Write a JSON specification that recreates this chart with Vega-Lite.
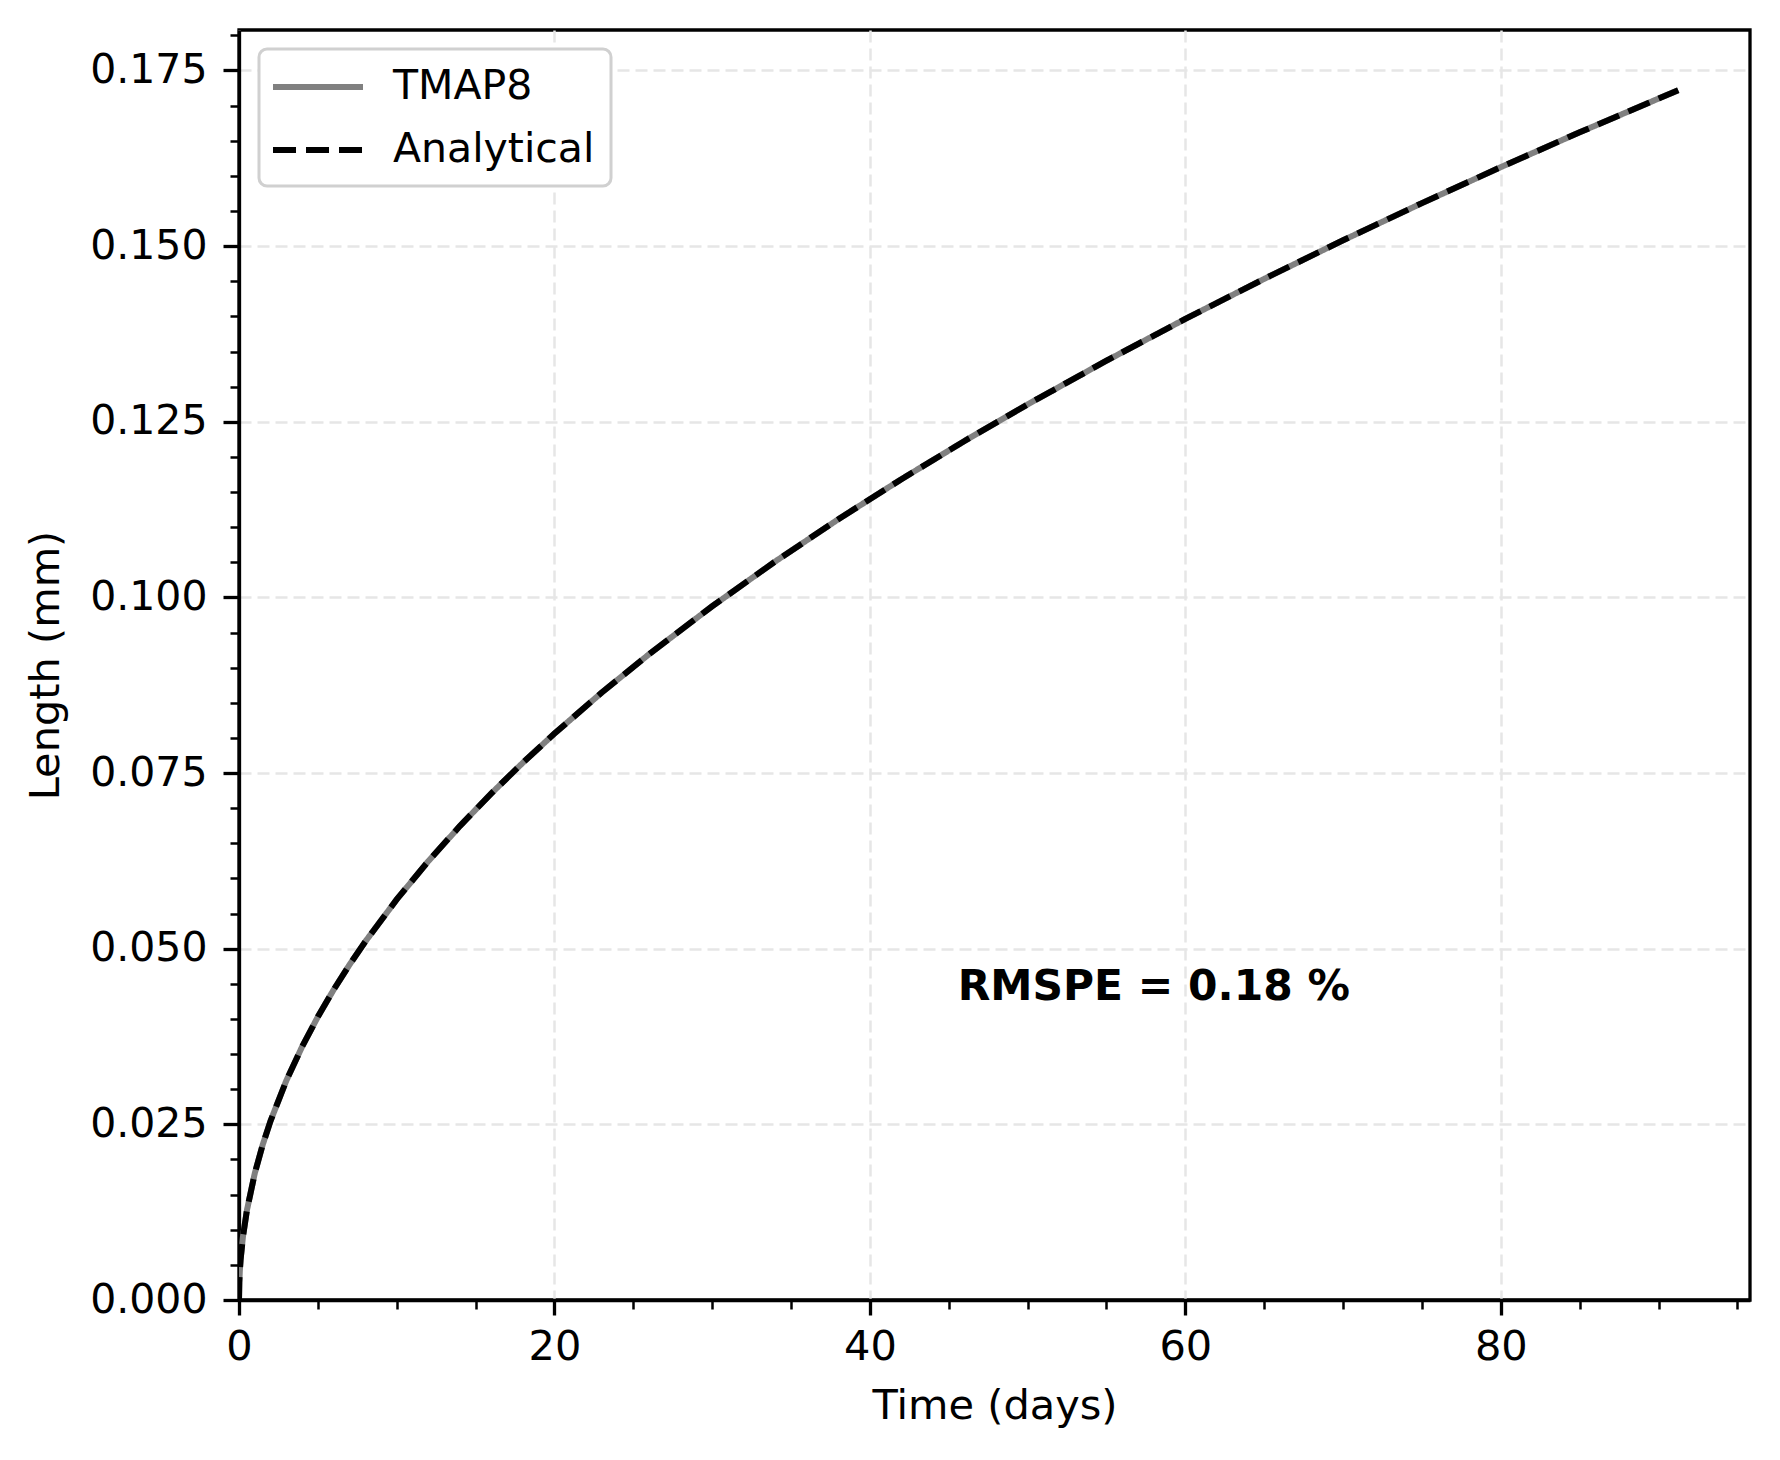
{
  "$schema": "https://vega.github.io/schema/vega-lite/v6.json",
  "autosize": {"type": "none"},
  "width": 1511,
  "height": 1270,
  "padding": {"left": 239, "top": 30, "right": 30, "bottom": 160},
  "background": "white",
  "config": {
    "font": "DejaVu Sans",
    "view": {"stroke": "black", "strokeWidth": 3.3},
    "axis": {
      "domain": false,
      "labelColor": "black",
      "titleColor": "black",
      "tickColor": "black",
      "labelFont": "DejaVu Sans",
      "titleFont": "DejaVu Sans",
      "titleFontWeight": "normal",
      "labelFlush": false,
      "labelOverlap": false
    }
  },
  "data": {
    "values": [
      {"t": 0, "tmap8": 0, "analytical": 0},
      {"t": 0.02, "tmap8": 0.00255, "analytical": 0.00255},
      {"t": 0.05, "tmap8": 0.00403, "analytical": 0.00403},
      {"t": 0.1, "tmap8": 0.0057, "analytical": 0.0057},
      {"t": 0.25, "tmap8": 0.00901, "analytical": 0.00901},
      {"t": 0.5, "tmap8": 0.01275, "analytical": 0.01275},
      {"t": 1, "tmap8": 0.01803, "analytical": 0.01803},
      {"t": 1.5, "tmap8": 0.02208, "analytical": 0.02208},
      {"t": 2, "tmap8": 0.02549, "analytical": 0.02549},
      {"t": 3, "tmap8": 0.03122, "analytical": 0.03122},
      {"t": 4, "tmap8": 0.03605, "analytical": 0.03605},
      {"t": 5, "tmap8": 0.04031, "analytical": 0.04031},
      {"t": 6, "tmap8": 0.04416, "analytical": 0.04416},
      {"t": 7, "tmap8": 0.0477, "analytical": 0.0477},
      {"t": 8, "tmap8": 0.05099, "analytical": 0.05099},
      {"t": 10, "tmap8": 0.05701, "analytical": 0.05701},
      {"t": 12, "tmap8": 0.06245, "analytical": 0.06245},
      {"t": 14, "tmap8": 0.06745, "analytical": 0.06745},
      {"t": 16, "tmap8": 0.07211, "analytical": 0.07211},
      {"t": 18, "tmap8": 0.07648, "analytical": 0.07648},
      {"t": 20, "tmap8": 0.08062, "analytical": 0.08062},
      {"t": 23, "tmap8": 0.08646, "analytical": 0.08646},
      {"t": 26, "tmap8": 0.09192, "analytical": 0.09192},
      {"t": 30, "tmap8": 0.09874, "analytical": 0.09874},
      {"t": 34, "tmap8": 0.10512, "analytical": 0.10512},
      {"t": 38, "tmap8": 0.11113, "analytical": 0.11113},
      {"t": 42, "tmap8": 0.11683, "analytical": 0.11683},
      {"t": 46, "tmap8": 0.12226, "analytical": 0.12226},
      {"t": 50, "tmap8": 0.12747, "analytical": 0.12747},
      {"t": 55, "tmap8": 0.13369, "analytical": 0.13369},
      {"t": 60, "tmap8": 0.13964, "analytical": 0.13964},
      {"t": 65, "tmap8": 0.14534, "analytical": 0.14534},
      {"t": 70, "tmap8": 0.15083, "analytical": 0.15083},
      {"t": 75, "tmap8": 0.15612, "analytical": 0.15612},
      {"t": 80, "tmap8": 0.16124, "analytical": 0.16124},
      {"t": 85, "tmap8": 0.1662, "analytical": 0.1662},
      {"t": 91.25, "tmap8": 0.1722, "analytical": 0.1722}
    ]
  },
  "transform": [
    {"fold": ["tmap8", "analytical"], "as": ["key", "length"]},
    {"calculate": "datum.key === 'tmap8' ? 'TMAP8' : 'Analytical'", "as": "series"}
  ],
  "layer": [
    {
      "transform": [{"filter": "datum.series === 'TMAP8'"}],
      "mark": {"type": "line", "strokeWidth": 6, "clip": true},
      "encoding": {
        "x": {
          "field": "t", "type": "quantitative",
          "scale": {"domain": [0, 95.8], "nice": false, "zero": false},
          "axis": {
            "values": [0, 20, 40, 60, 80],
            "title": "Time (days)",
            "labelFontSize": 41.5, "titleFontSize": 41.5,
            "tickSize": 15, "tickWidth": 3.3, "labelPadding": 11, "titlePadding": 18,
            "grid": true, "gridDash": [12, 6], "gridColor": "#e6e6e6", "gridWidth": 2.5
          }
        },
        "y": {
          "field": "length", "type": "quantitative",
          "scale": {"domain": [0, 0.18076], "nice": false, "zero": false},
          "axis": {
            "values": [0, 0.025, 0.05, 0.075, 0.1, 0.125, 0.15, 0.175],
            "format": ".3f",
            "title": "Length (mm)",
            "labelFontSize": 41, "titleFontSize": 41.5,
            "tickSize": 16, "tickWidth": 3.3, "labelPadding": 16, "titlePadding": 22,
            "grid": true, "gridDash": [12, 6], "gridColor": "#e6e6e6", "gridWidth": 2.5
          }
        },
        "color": {
          "field": "series", "type": "nominal",
          "scale": {"domain": ["TMAP8", "Analytical"], "range": ["#808080", "#000000"]},
          "legend": {
            "title": null, "orient": "none", "legendX": 20, "legendY": 19,
            "symbolType": "M-2.368,0H2.368", "symbolSize": 1444, "symbolStrokeWidth": 6,
            "symbolOffset": 21,
            "labelFontSize": 41, "labelColor": "black", "labelOffset": 53, "labelLimit": 600,
            "rowPadding": 21, "padding": 16,
            "strokeColor": "#d0d0d0", "cornerRadius": 8, "fillColor": "white",
            "encode": {"legend": {"update": {"strokeWidth": {"value": 3}}}}
          }
        },
        "strokeDash": {
          "field": "series", "type": "nominal",
          "scale": {"domain": ["TMAP8", "Analytical"], "range": [[1, 0], [23, 10]]},
          "legend": null
        }
      }
    },
    {
      "transform": [{"filter": "datum.series === 'Analytical'"}],
      "mark": {"type": "line", "strokeWidth": 6, "clip": true},
      "encoding": {
        "x": {"field": "t", "type": "quantitative", "axis": null},
        "y": {"field": "length", "type": "quantitative", "axis": null},
        "color": {"field": "series", "type": "nominal"},
        "strokeDash": {"field": "series", "type": "nominal"}
      }
    },
    {
      "mark": {"type": "line", "opacity": 0},
      "encoding": {
        "x": {
          "field": "t", "type": "quantitative",
          "axis": {
            "orient": "bottom", "values": [5, 10, 15, 25, 30, 35, 45, 50, 55, 65, 70, 75, 85, 90, 95],
            "labels": false, "title": null, "grid": false, "tickSize": 9, "tickWidth": 2.5,
            "domain": true, "domainColor": "black", "domainWidth": 3.3
          }
        },
        "y": {
          "field": "length", "type": "quantitative",
          "axis": {
            "orient": "left",
            "values": [0.005, 0.01, 0.015, 0.02, 0.03, 0.035, 0.04, 0.045, 0.055, 0.06, 0.065, 0.07, 0.08, 0.085, 0.09, 0.095, 0.105, 0.11, 0.115, 0.12, 0.13, 0.135, 0.14, 0.145, 0.155, 0.16, 0.165, 0.17, 0.18],
            "labels": false, "title": null, "grid": false, "tickSize": 9, "tickWidth": 2.5,
            "domain": true, "domainColor": "black", "domainWidth": 3.3
          }
        }
      }
    },
    {
      "data": {"values": [{"note": "RMSPE = 0.18 %"}]},
      "mark": {"type": "text", "fontSize": 42.4, "fontWeight": "bold", "align": "center", "baseline": "middle", "color": "black"},
      "encoding": {
        "x": {"datum": 58.0, "axis": null},
        "y": {"datum": 0.0445, "axis": null},
        "text": {"field": "note"}
      }
    }
  ],
  "resolve": {"axis": {"x": "independent", "y": "independent"}}
}
